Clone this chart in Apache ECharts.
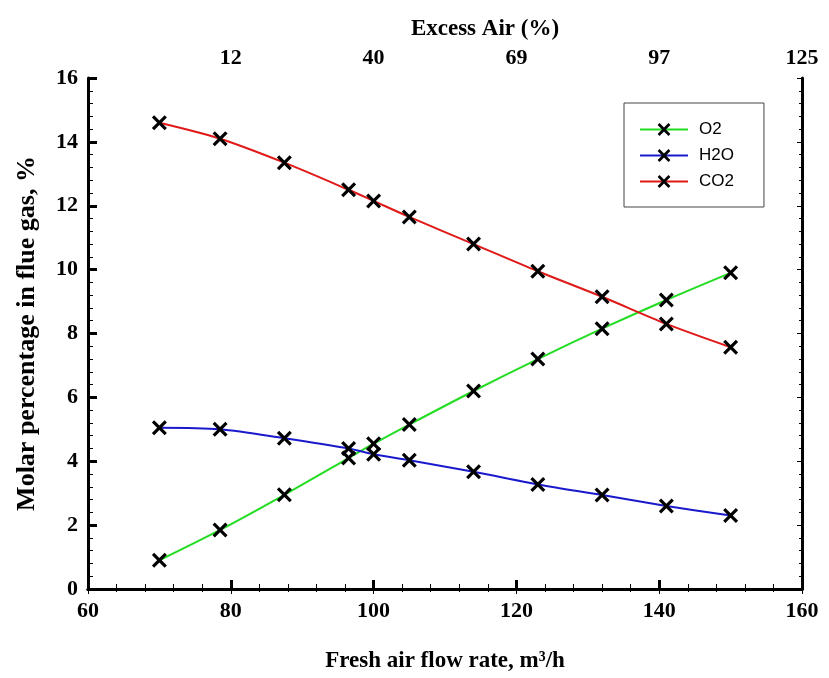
<!DOCTYPE html>
<html>
<head>
<meta charset="utf-8">
<script src="https://cdn.jsdelivr.net/npm/echarts@6/dist/echarts.min.js"></script>
<style>html,body{margin:0;padding:0;background:#fff}#c{width:829px;height:678px}</style>
</head>
<body>
<div id="c"></div>
<script>
// Data
var flowRate = [70, 78.5, 87.5, 96.5, 100, 105, 114, 123, 132, 141, 150];
var o2  = [0.9, 1.85, 2.95, 4.1, 4.55, 5.15, 6.2, 7.2, 8.15, 9.05, 9.9];
var h2o = [5.05, 5.0, 4.72, 4.4, 4.22, 4.03, 3.67, 3.27, 2.94, 2.6, 2.3];
var co2 = [14.6, 14.1, 13.35, 12.5, 12.15, 11.65, 10.8, 9.95, 9.15, 8.3, 7.57];
var topTickValues = [80, 100, 120, 140, 160];
var topTickLabels = ['12', '40', '69', '97', '125'];
var seriesNames = ['O2', 'H2O', 'CO2'];

function pairs(ys){ return flowRate.map(function(x,i){ return [x, ys[i]]; }); }

var xSymbol = 'path://M0,1.5 L1.5,0 L5,3.5 L8.5,0 L10,1.5 L6.5,5 L10,8.5 L8.5,10 L5,6.5 L1.5,10 L0,8.5 L3.5,5 Z';
var serif = 'Liberation Serif';
var tickFont = {fontFamily: serif, fontWeight: 'bold', fontSize: 22, color: '#000'};
var nameFont = {fontFamily: serif, fontWeight: 'bold', fontSize: 23, color: '#000'};
var yNameFont = {fontFamily: serif, fontWeight: 'bold', fontSize: 26, color: '#000'};

function mkSeries(name, data, color){
  return {
    name: name, type: 'line', data: pairs(data), smooth: 0.3,
    symbol: xSymbol, symbolSize: 15,
    lineStyle: {color: color, width: 2},
    itemStyle: {color: '#000'},
    z: 3
  };
}

var chart = echarts.init(document.getElementById('c'), null, {renderer: 'canvas'});
chart.setOption({
  animation: false,
  backgroundColor: '#fff',
  title: {
    text: 'Excess Air (%)', left: 480, top: 13, textAlign: 'center',
    textStyle: nameFont
  },
  grid: {left: 88, right: 27, top: 78, bottom: 88},
  legend: {
    data: seriesNames, orient: 'vertical', left: 624, top: 103,
    padding: [18, 30, 17, 15], itemGap: 9, itemWidth: 48, itemHeight: 16,
    borderColor: '#444', borderWidth: 1, backgroundColor: '#fff',
    textStyle: {fontFamily: 'Liberation Sans', fontSize: 17, color: '#000', padding: [0, 0, 0, 6]}
  },
  xAxis: [{
    type: 'value', min: 60, max: 160, interval: 20, position: 'bottom',
    name: 'Fresh air flow rate, m\u00B3/h', nameLocation: 'middle', nameGap: 61,
    nameTextStyle: nameFont,
    axisLine: {show: true, lineStyle: {color: '#000', width: 3}},
    axisTick: {inside: true, length: 9, lineStyle: {color: '#000', width: 3}},
    minorTick: {show: true, splitNumber: 5, length: 5, lineStyle: {color: '#000', width: 1}},
    axisLabel: Object.assign({margin: 11}, tickFont),
    splitLine: {show: false}
  }, {
    type: 'value', min: 60, max: 160, interval: 20, position: 'top',
    axisLine: {show: true, lineStyle: {color: '#000', width: 3}},
    axisTick: {inside: true, length: 5, lineStyle: {color: '#000', width: 1}},
    minorTick: {show: true, splitNumber: 5, length: 3, lineStyle: {color: '#000', width: 1}},
    axisLabel: Object.assign({margin: 9, formatter: function(v){
      var i = topTickValues.indexOf(v); return i >= 0 ? topTickLabels[i] : '';
    }}, tickFont),
    splitLine: {show: false}
  }],
  yAxis: [{
    type: 'value', min: 0, max: 16, interval: 2, position: 'left',
    name: 'Molar percentage in flue gas, %', nameLocation: 'middle', nameGap: 48,
    nameTextStyle: yNameFont,
    axisLine: {show: true, lineStyle: {color: '#000', width: 3}},
    axisTick: {inside: true, length: 9, lineStyle: {color: '#000', width: 3}},
    minorTick: {show: true, splitNumber: 5, length: 5, lineStyle: {color: '#000', width: 1}},
    axisLabel: Object.assign({margin: 10}, tickFont),
    splitLine: {show: false}
  }, {
    type: 'value', min: 0, max: 16, interval: 2, position: 'right',
    axisLine: {show: true, lineStyle: {color: '#000', width: 3}},
    axisTick: {inside: true, length: 5, lineStyle: {color: '#000', width: 1}},
    minorTick: {show: true, splitNumber: 5, length: 3, lineStyle: {color: '#000', width: 1}},
    axisLabel: {show: false},
    splitLine: {show: false}
  }],
  series: [
    mkSeries(seriesNames[0], o2, '#22dd22'),
    mkSeries(seriesNames[1], h2o, '#1a1acc'),
    mkSeries(seriesNames[2], co2, '#e01818')
  ]
});
</script>
</body>
</html>
